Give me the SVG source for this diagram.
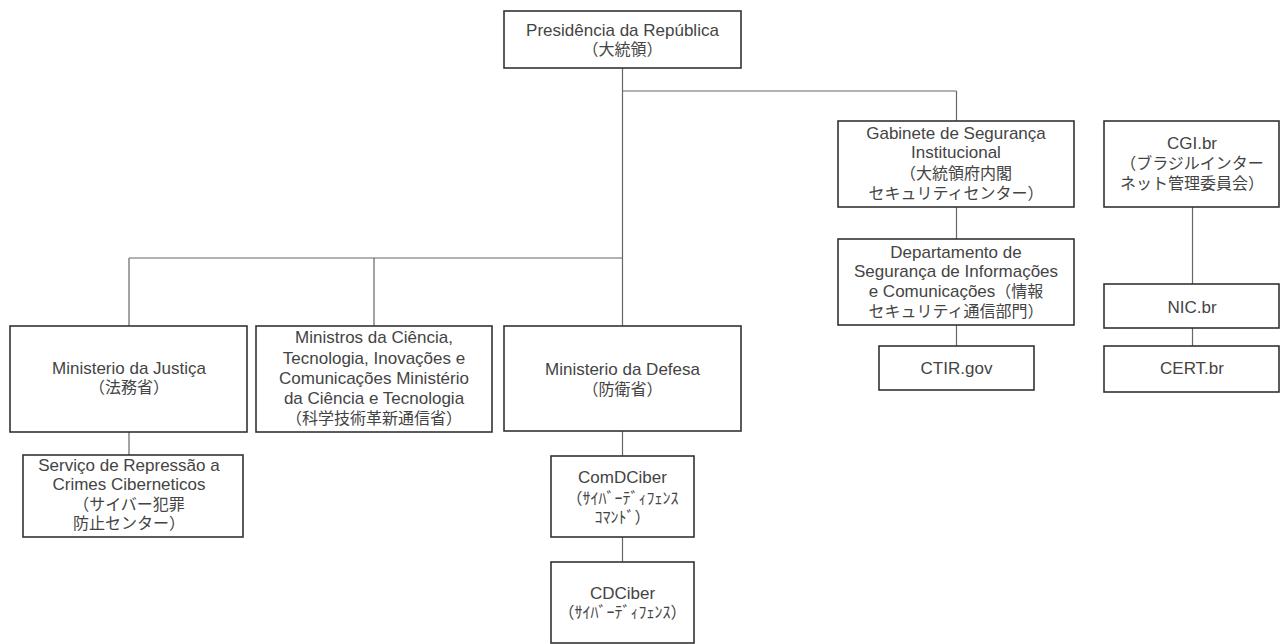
<svg xmlns="http://www.w3.org/2000/svg" width="1282" height="644" viewBox="0 0 1282 644">
<style>
rect.box{fill:#fff;stroke:#333;stroke-width:1.6}
.conn line{stroke:#666;stroke-width:1.2;fill:none}
text{font-family:"Liberation Sans","Noto Sans CJK JP",sans-serif;font-size:17px;fill:#444;text-anchor:middle;dominant-baseline:central}
text.jp,tspan.jp{font-size:16px}
text.hw{font-size:16px}
</style>
<rect width="1282" height="644" fill="#fff"/>
<g class="conn" id="connectors">
<line x1="622.5" y1="68" x2="622.5" y2="326"/>
<line x1="622.5" y1="91" x2="956.5" y2="91"/>
<line x1="956.5" y1="91" x2="956.5" y2="121"/>
<line x1="129" y1="258" x2="622.5" y2="258"/>
<line x1="129" y1="258" x2="129" y2="326"/>
<line x1="374" y1="258" x2="374" y2="326"/>
<line x1="956.5" y1="207" x2="956.5" y2="239"/>
<line x1="956.5" y1="325" x2="956.5" y2="346"/>
<line x1="1192.5" y1="207" x2="1192.5" y2="284"/>
<line x1="1192.5" y1="328" x2="1192.5" y2="346"/>
<line x1="129" y1="432" x2="129" y2="455"/>
<line x1="622.5" y1="431" x2="622.5" y2="456"/>
<line x1="622.5" y1="537" x2="622.5" y2="562"/>
</g>
<g id="presidencia">
<rect class="box" x="504" y="11" width="237" height="57"/>
<text x="622.5" y="30">Presidência da República</text>
<text class="jp" x="622.5" y="49">（大統領）</text>
</g>
<g id="gabinete">
<rect class="box" x="838" y="121" width="236" height="86"/>
<text x="956" y="133">Gabinete de Segurança</text>
<text x="956" y="152">Institucional</text>
<text class="jp" x="956" y="173">（大統領府内閣</text>
<text class="jp" x="956" y="193">セキュリティセンター）</text>
</g>
<g id="departamento">
<rect class="box" x="838" y="239" width="236" height="86"/>
<text x="956" y="252">Departamento de</text>
<text x="956" y="271">Segurança de Informações</text>
<text x="956" y="291">e Comunicações<tspan class="jp">（情報</tspan></text>
<text class="jp" x="956" y="311">セキュリティ通信部門）</text>
</g>
<g id="ctir">
<rect class="box" x="879" y="346" width="155" height="44"/>
<text x="956.5" y="368">CTIR.gov</text>
</g>
<g id="cgi">
<rect class="box" x="1104" y="121" width="175" height="86"/>
<text x="1192" y="143">CGI.br</text>
<text class="jp" x="1192" y="163">（ブラジルインター</text>
<text class="jp" x="1192" y="183">ネット管理委員会）</text>
</g>
<g id="nic">
<rect class="box" x="1104" y="284" width="175" height="44"/>
<text x="1192" y="307">NIC.br</text>
</g>
<g id="cert">
<rect class="box" x="1104" y="346" width="175" height="46"/>
<text x="1192" y="368">CERT.br</text>
</g>
<g id="justica">
<rect class="box" x="10" y="326" width="237" height="106"/>
<text x="129" y="368">Ministerio da Justiça</text>
<text class="jp" x="129" y="387">（法務省）</text>
</g>
<g id="mctic">
<rect class="box" x="256" y="326" width="236" height="106"/>
<text x="374" y="337">Ministros da Ciência,</text>
<text x="374" y="358">Tecnologia, Inovações e</text>
<text x="374" y="378">Comunicações Ministério</text>
<text x="374" y="398">da Ciência e Tecnologia</text>
<text class="jp" x="374" y="418">（科学技術革新通信省）</text>
</g>
<g id="defesa">
<rect class="box" x="504" y="326" width="237" height="105"/>
<text x="622.5" y="369">Ministerio da Defesa</text>
<text class="jp" x="622.5" y="389">（防衛省）</text>
</g>
<g id="servico">
<rect class="box" x="23" y="455" width="220" height="82"/>
<text x="129" y="465">Serviço de Repressão a</text>
<text x="129" y="484">Crimes Ciberneticos</text>
<text class="jp" x="129" y="504">（サイバー犯罪</text>
<text class="jp" x="129" y="523">防止センター）</text>
</g>
<g id="comdciber">
<rect class="box" x="551" y="456" width="143" height="81"/>
<text x="622.5" y="477">ComDCiber</text>
<text class="hw" x="622.5" y="498">（ｻｲﾊﾞｰﾃﾞｨﾌｪﾝｽ</text>
<text class="hw" x="622.5" y="517">ｺﾏﾝﾄﾞ）</text>
</g>
<g id="cdciber">
<rect class="box" x="551" y="562" width="143" height="81"/>
<text x="622.5" y="593">CDCiber</text>
<text class="hw" x="622.5" y="612">（ｻｲﾊﾞｰﾃﾞｨﾌｪﾝｽ）</text>
</g>
</svg>
